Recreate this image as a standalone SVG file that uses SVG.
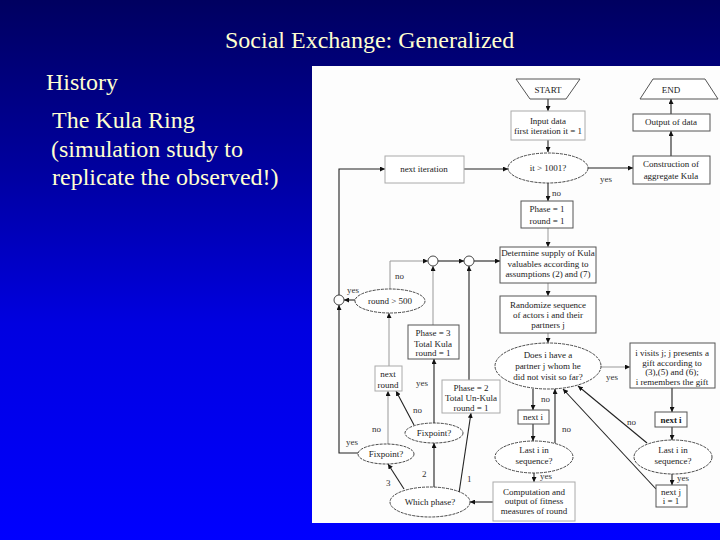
<svg xmlns="http://www.w3.org/2000/svg" width="720" height="540" viewBox="0 0 720 540">
<defs>
<linearGradient id="bg" x1="0" y1="0" x2="0" y2="1">
<stop offset="0" stop-color="#000060"/>
<stop offset="0.3" stop-color="#00009c"/>
<stop offset="0.6" stop-color="#0000e0"/>
<stop offset="1" stop-color="#0000ff"/>
</linearGradient>
<marker id="ah" viewBox="0 0 6 6" refX="6" refY="3" markerWidth="5" markerHeight="5" orient="auto" markerUnits="userSpaceOnUse">
<path d="M0,0 L6,3 L0,6 z" fill="#111"/>
</marker>
<style>
.slide{font-family:"Liberation Serif","Times New Roman",serif;font-size:24px;fill:#ffffd0}
.bx{fill:#fff;stroke:#555;stroke-width:1}
.lb{fill:#fff;stroke:#aaa;stroke-width:1}
.el{fill:#fff;stroke:#333;stroke-width:0.9;stroke-dasharray:3 1}
.t{font-family:"Liberation Serif","Times New Roman",serif;font-size:9px;fill:#222;text-anchor:middle}
.b{font-weight:bold}
.l{font-family:"Liberation Serif","Times New Roman",serif;font-size:9px;fill:#333}
.c{fill:none;stroke:#222;stroke-width:1.1}
.g{fill:none;stroke:#999;stroke-width:1}
.cc{fill:#fff;stroke:#333;stroke-width:0.9}
</style>
</defs>
<rect x="0" y="0" width="720" height="540" fill="url(#bg)"/>
<text class="slide" x="225" y="48">Social Exchange: Generalized</text>
<text class="slide" x="46" y="90">History</text>
<text class="slide" x="52" y="128">The Kula Ring</text>
<text class="slide" x="51" y="157">(simulation study to</text>
<text class="slide" x="52" y="185">replicate the observed!)</text>
<rect x="312" y="66" width="408" height="457" fill="#fdfdfd"/>

<g id="connectors">
<line class="c" x1="548" y1="99" x2="548" y2="111" marker-end="url(#ah)"/>
<line class="c" x1="548" y1="140" x2="548" y2="152" marker-end="url(#ah)"/>
<line class="c" x1="588" y1="168" x2="633" y2="168" marker-end="url(#ah)"/>
<text class="l" x="600" y="182">yes</text>
<line class="c" x1="548" y1="183" x2="548" y2="201" marker-end="url(#ah)"/>
<text class="l" x="552" y="196">no</text>
<line class="c" x1="671" y1="156" x2="671" y2="131" marker-end="url(#ah)"/>
<line class="c" x1="671" y1="114" x2="671" y2="99" marker-end="url(#ah)"/>
<line class="c" x1="464" y1="169" x2="508" y2="169" marker-end="url(#ah)"/>
<line class="g" x1="548" y1="228" x2="548" y2="247" marker-end="url(#ah)"/>
<line class="g" x1="548" y1="283" x2="548" y2="296" marker-end="url(#ah)"/>
<line class="g" x1="548" y1="333" x2="548" y2="343" marker-end="url(#ah)"/>
<line class="g" x1="601" y1="367" x2="630" y2="367" marker-end="url(#ah)"/>
<text class="l" x="606" y="380">yes</text>
<line class="c" x1="672" y1="388" x2="672" y2="412" marker-end="url(#ah)"/>
<line class="c" x1="672" y1="427" x2="672" y2="440" marker-end="url(#ah)"/>
<line class="c" x1="672" y1="474" x2="672" y2="485" marker-end="url(#ah)"/>
<text class="l" x="677" y="481">yes</text>
<line class="c" x1="656" y1="489" x2="563" y2="389" marker-end="url(#ah)"/>
<line class="c" x1="647" y1="443" x2="578" y2="386" marker-end="url(#ah)"/>
<text class="l" x="627" y="425">no</text>
<line class="c" x1="533" y1="389" x2="533" y2="410" marker-end="url(#ah)"/>
<text class="l" x="541" y="402">no</text>
<line class="c" x1="533" y1="424" x2="533" y2="441" marker-end="url(#ah)"/>
<line class="c" x1="555" y1="443" x2="555" y2="389" marker-end="url(#ah)"/>
<text class="l" x="562" y="432">no</text>
<line class="c" x1="534" y1="473" x2="534" y2="482" marker-end="url(#ah)"/>
<text class="l" x="540" y="479">yes</text>
<line class="c" x1="493" y1="502" x2="470" y2="502" marker-end="url(#ah)"/>
<line class="c" x1="459" y1="493" x2="471" y2="413" marker-end="url(#ah)"/>
<text class="l" x="467" y="482">1</text>
<line class="c" x1="434" y1="487" x2="434" y2="443" marker-end="url(#ah)"/>
<text class="l" x="422" y="477">2</text>
<line class="c" x1="404" y1="489" x2="388" y2="464" marker-end="url(#ah)"/>
<text class="l" x="386" y="486">3</text>
<line class="c" x1="434" y1="423" x2="434" y2="359" marker-end="url(#ah)"/>
<text class="l" x="416" y="386">yes</text>
<line class="c" x1="414" y1="425" x2="396" y2="391" marker-end="url(#ah)"/>
<text class="l" x="413" y="413">no</text>
<line class="g" x1="388" y1="444" x2="388" y2="391" marker-end="url(#ah)"/>
<text class="l" x="372" y="432">no</text>
<polyline class="c" points="358,453 339,453 339,305" marker-end="url(#ah)"/>
<text class="l" x="346" y="445">yes</text>
<polyline class="c" points="339,295 339,169 385,169" marker-end="url(#ah)"/>
<line class="g" x1="389" y1="366" x2="389" y2="313" marker-end="url(#ah)"/>
<line class="c" x1="355" y1="300" x2="344" y2="300" marker-end="url(#ah)"/>
<text class="l" x="347" y="293">yes</text>
<polyline class="g" points="390,289 390,261 428,261" marker-end="url(#ah)"/>
<text class="l" x="395" y="279">no</text>
<line class="g" x1="433" y1="325" x2="433" y2="266" marker-end="url(#ah)"/>
<line class="c" x1="438" y1="261" x2="464" y2="261" marker-end="url(#ah)"/>
<line class="c" x1="469" y1="380" x2="469" y2="266" marker-end="url(#ah)"/>
<line class="c" x1="474" y1="261" x2="500" y2="261" marker-end="url(#ah)"/>
</g>

<g id="start"><polygon points="516,79 580,79 566,99 530,99" fill="#fff" stroke="#555"/><text class="t" x="548" y="93">START</text></g>
<g id="end"><polygon points="653,79 705,79 718,99 640,99" fill="#fff" stroke="#555"/><text class="t" x="671" y="93">END</text></g>
<g id="input"><rect class="lb" x="511" y="111" width="74" height="29"/><text class="t" x="548" y="124">Input data</text><text class="t" x="548" y="134">first iteration it = 1</text></g>
<g id="it-check"><ellipse class="el" cx="548" cy="168" rx="40" ry="15"/><text class="t" x="548" y="171">it &gt; 1001?</text></g>
<g id="next-iteration"><rect class="lb" x="385" y="156" width="79" height="27"/><text class="t" x="424" y="172">next iteration</text></g>
<g id="construction"><rect class="bx" x="633" y="156" width="77" height="28"/><text class="t" x="671" y="167">Construction of</text><text class="t" x="671" y="179">aggregate Kula</text></g>
<g id="output"><rect class="bx" x="633" y="114" width="77" height="17"/><text class="t" x="671" y="125">Output of data</text></g>
<g id="phase1"><rect class="bx" x="521" y="201" width="52" height="27"/><text class="t" x="547" y="212">Phase = 1</text><text class="t" x="547" y="224">round = 1</text></g>
<g id="determine"><rect class="bx" x="500" y="247" width="96" height="36"/><text class="t" x="548" y="256">Determine supply of Kula</text><text class="t" x="548" y="266.5">valuables according to</text><text class="t" x="548" y="277">assumptions (2) and (7)</text></g>
<g id="randomize"><rect class="bx" x="500" y="296" width="96" height="37"/><text class="t" x="548" y="308">Randomize sequence</text><text class="t" x="548" y="318">of actors i and their</text><text class="t" x="548" y="328">partners j</text></g>
<g id="partner-check"><ellipse class="el" cx="548" cy="366" rx="53" ry="23"/><text class="t" x="548" y="358">Does i have a</text><text class="t" x="548" y="369">partner j whom he</text><text class="t" x="548" y="380">did not visit so far?</text></g>
<g id="visit"><rect class="bx" x="630" y="343" width="85" height="45"/><text class="t" x="672" y="356">i visits j; j presents a</text><text class="t" x="672" y="366">gift according to</text><text class="t" x="672" y="375">(3),(5) and (6);</text><text class="t" x="672" y="385">i remembers the gift</text></g>
<g id="next-i-right"><rect class="bx" x="655" y="412" width="32" height="15" stroke-width="1.5"/><text class="t b" x="671" y="423">next i</text></g>
<g id="last-i-right"><ellipse class="el" cx="673" cy="457" rx="39" ry="17"/><text class="t" x="673" y="453">Last i in</text><text class="t" x="673" y="464">sequence?</text></g>
<g id="next-j"><rect class="bx" x="656" y="485" width="31" height="22" stroke-width="1.5"/><text class="t" x="671" y="495">next j</text><text class="t" x="671" y="504">i = 1</text></g>
<g id="next-i-left"><rect class="bx" x="518" y="410" width="31" height="14" stroke-width="1.5"/><text class="t" x="533" y="420">next i</text></g>
<g id="last-i-left"><ellipse class="el" cx="534" cy="457" rx="39" ry="16"/><text class="t" x="534" y="453">Last i in</text><text class="t" x="534" y="464">sequence?</text></g>
<g id="computation"><rect class="lb" x="493" y="482" width="82" height="39"/><text class="t" x="534" y="495">Computation and</text><text class="t" x="534" y="504">output of fitness</text><text class="t" x="534" y="514">measures of round</text></g>
<g id="which-phase"><ellipse class="el" cx="430" cy="502" rx="40" ry="15"/><text class="t" x="430" y="505">Which phase?</text></g>
<g id="fixpoint-upper"><ellipse class="el" cx="434" cy="433" rx="29" ry="10"/><text class="t" x="434" y="436">Fixpoint?</text></g>
<g id="fixpoint-lower"><ellipse class="el" cx="386" cy="454" rx="28" ry="10"/><text class="t" x="386" y="457">Fixpoint?</text></g>
<g id="next-round"><rect class="lb" x="375" y="366" width="27" height="25"/><text class="t" x="388" y="377">next</text><text class="t" x="388" y="388">round</text></g>
<g id="phase3"><rect class="bx" x="408" y="325" width="51" height="34"/><text class="t" x="433" y="336">Phase = 3</text><text class="t" x="433" y="347">Total Kula</text><text class="t" x="433" y="356">round = 1</text></g>
<g id="phase2"><rect class="lb" x="442" y="380" width="58" height="33"/><text class="t" x="471" y="391">Phase = 2</text><text class="t" x="471" y="401">Total Un-Kula</text><text class="t" x="471" y="411">round = 1</text></g>
<g id="round-check"><ellipse class="el" cx="390" cy="301" rx="35" ry="12"/><text class="t" x="390" y="304">round &gt; 500</text></g>
<g id="join-left"><circle class="cc" cx="339" cy="300" r="5"/></g>
<g id="join-1"><circle class="cc" cx="433" cy="261" r="5"/></g>
<g id="join-2"><circle class="cc" cx="469" cy="261" r="5"/></g>
</svg>
